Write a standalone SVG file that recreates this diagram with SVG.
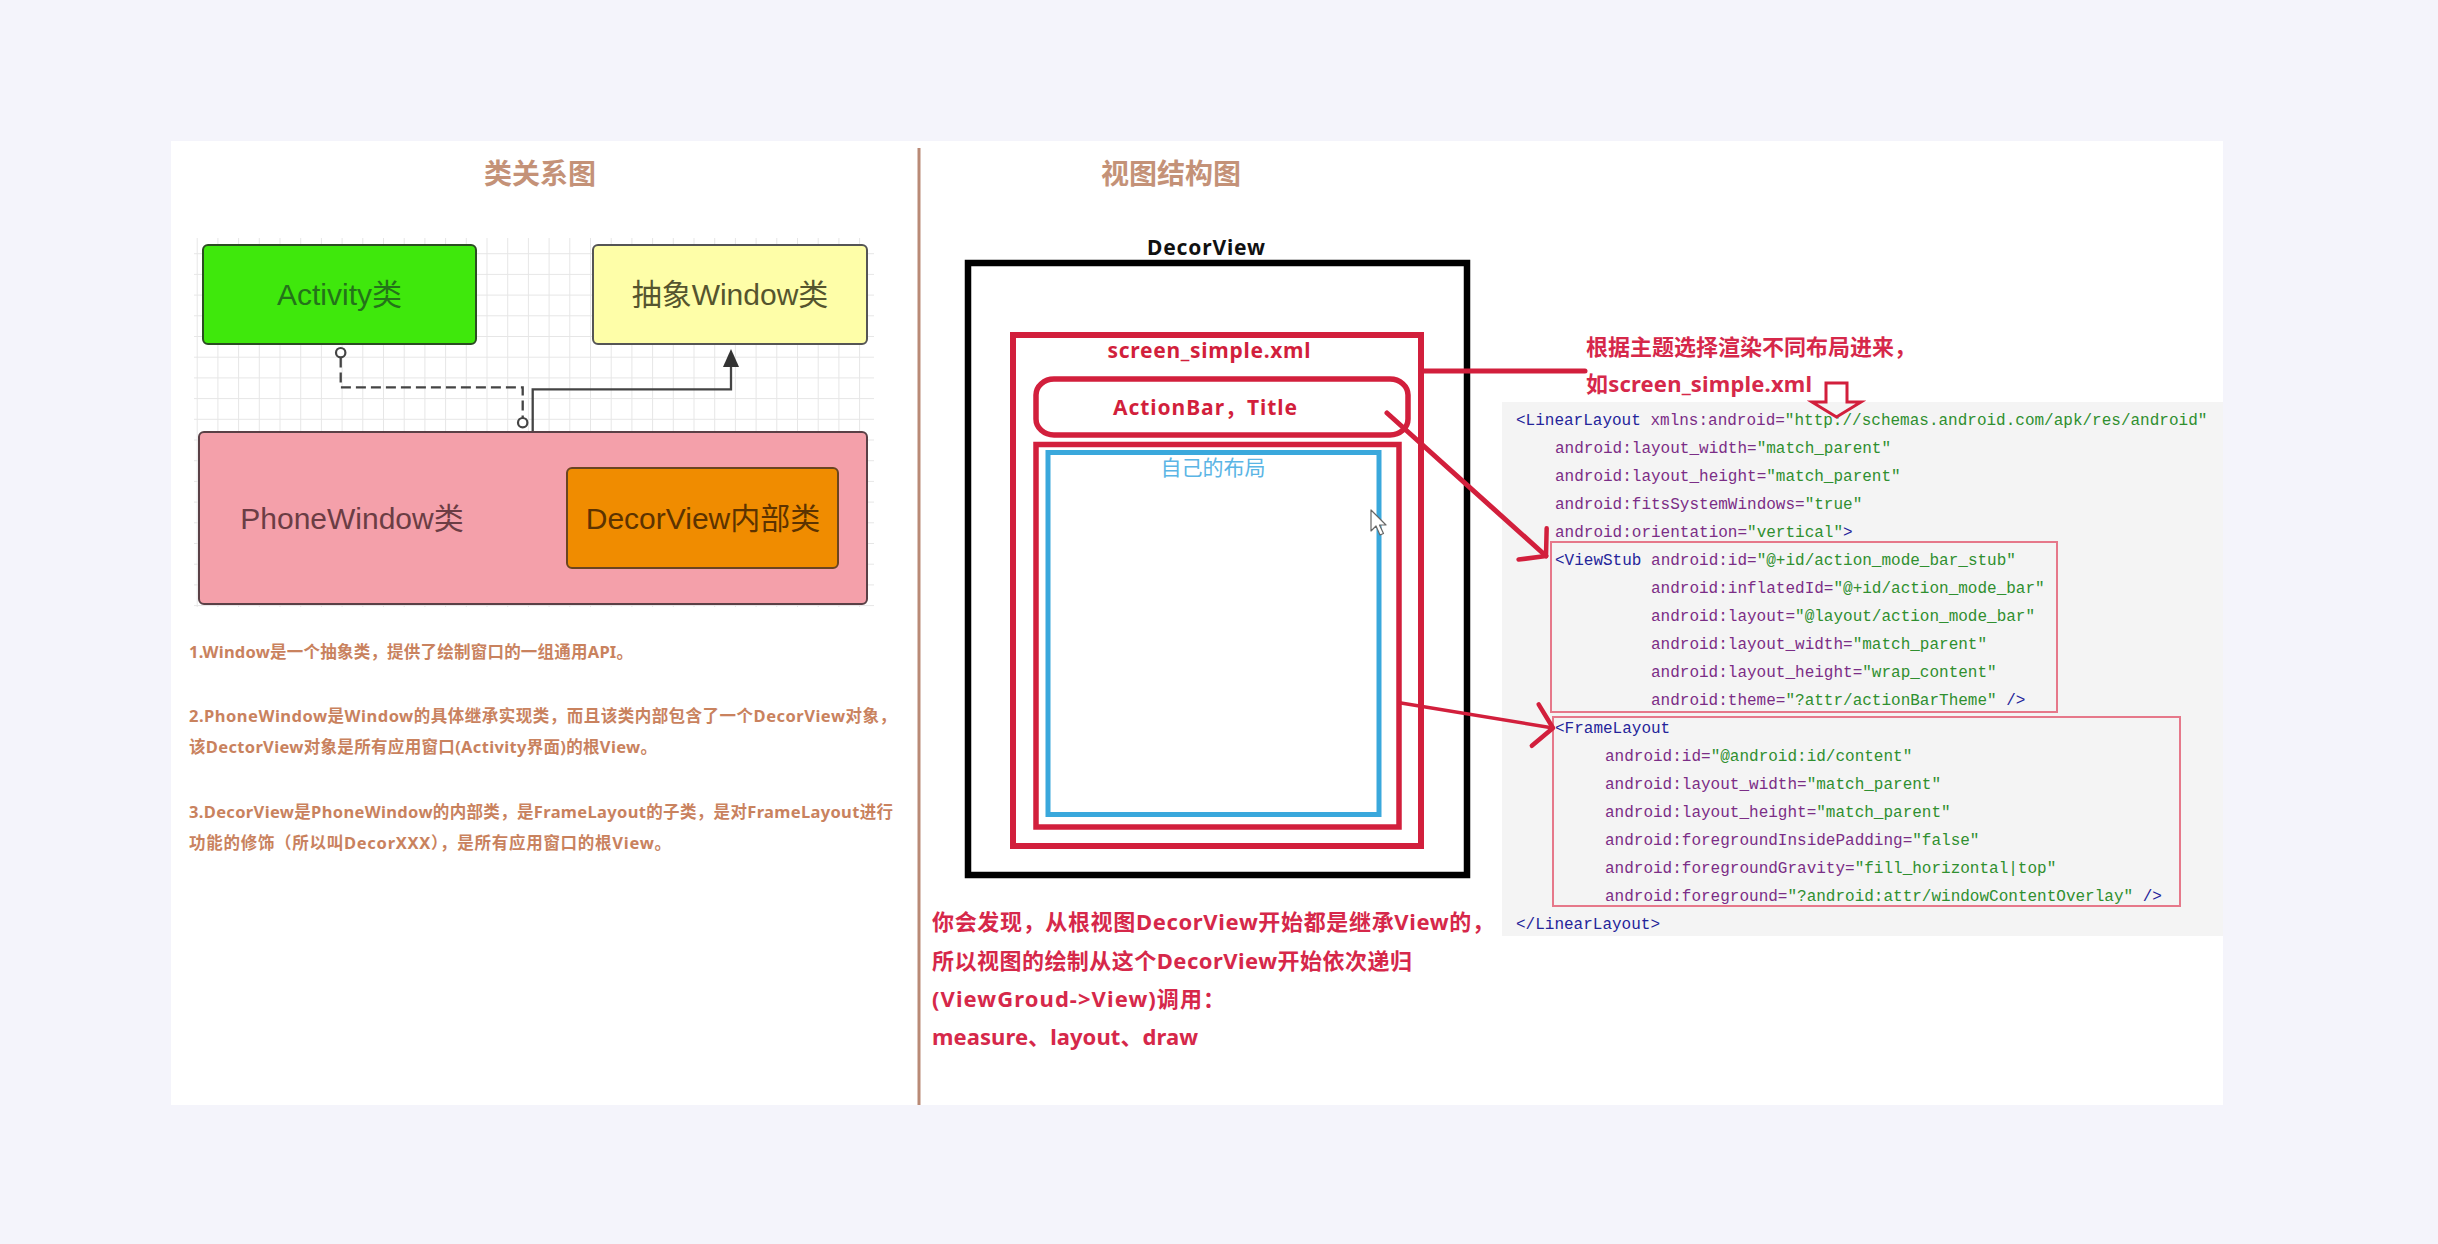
<svg xmlns="http://www.w3.org/2000/svg" width="2438" height="1244" viewBox="0 0 2438 1244">
<style>
.title{font-family:"Noto Sans","Noto Sans CJK SC",sans-serif;font-weight:bold;font-size:28px;fill:#c49278}
.cls{font-family:"Liberation Sans","Noto Sans CJK SC",sans-serif;font-size:30px;text-anchor:middle}
.note{font-family:"Noto Sans","Noto Sans CJK SC",sans-serif;font-weight:bold;font-size:16.5px;fill:#c9825e}
.red{font-family:"Noto Sans","Noto Sans CJK SC",sans-serif;font-weight:bold;font-size:22px;fill:#d6284a}
.lbl{font-family:"Noto Sans","Noto Sans CJK SC",sans-serif;font-weight:bold;font-size:21px;text-anchor:middle}
.code{font-family:"Liberation Mono","Noto Sans CJK SC",monospace;font-size:16px;fill:#7b2d86}
.tag{fill:#24249a}
.val{fill:#2f8f2f}
.conn{fill:none;stroke:#444;stroke-width:2.3}
.redline{fill:none;stroke:#d21f3c;stroke-linecap:round}
.pink{fill:none;stroke:#e6788a;stroke-width:2}
</style>
<defs>
<pattern id="grid" x="196.7" y="356.7" width="20.7" height="20.7" patternUnits="userSpaceOnUse">
<path d="M0 0.5H20.7M0.5 0V20.7" stroke="#e6e6e6" stroke-width="1" fill="none"/>
</pattern>
<marker id="vhead" markerUnits="userSpaceOnUse" markerWidth="40" markerHeight="50" refX="0" refY="0" viewBox="-30 -25 40 50" orient="auto" overflow="visible">
<path d="M-18,-21 L0,0 L-18,21" fill="none" stroke="#d21f3c" stroke-width="4.5" stroke-linecap="round" stroke-linejoin="round"/>
</marker>
</defs>
<rect x="0" y="0" width="2438" height="1244" fill="#f4f4fb"/>
<rect x="171" y="141" width="2052" height="964" fill="#ffffff"/>
<line x1="919" y1="148" x2="919" y2="1105" stroke="#b98a76" stroke-width="3"/>

<text class="title" x="540" y="184" text-anchor="middle">类关系图</text>
<text class="title" x="1171" y="184" text-anchor="middle">视图结构图</text>

<rect x="194" y="238" width="680" height="369" fill="url(#grid)"/>

<g id="activity">
<rect x="203" y="245" width="273" height="99" rx="5" fill="#3fe80c" stroke="#2b4d22" stroke-width="2"/>
<text class="cls" x="339.5" y="305" fill="#24731a">Activity类</text>
</g>
<g id="window">
<rect x="593" y="245" width="274" height="99" rx="5" fill="#fefea8" stroke="#555" stroke-width="2"/>
<text class="cls" x="730" y="305" fill="#55552e">抽象Window类</text>
</g>
<g id="phonewindow">
<rect x="199" y="432" width="668" height="172" rx="5" fill="#f4a0aa" stroke="#5a4046" stroke-width="2"/>
<text class="cls" x="352" y="529" fill="#6b3d44">PhoneWindow类</text>
</g>
<g id="decorview-class">
<rect x="567" y="468" width="271" height="100" rx="5" fill="#f08c00" stroke="#6a4520" stroke-width="2"/>
<text class="cls" x="703" y="529" fill="#5c3300">DecorView内部类</text>
</g>

<g id="notes">
<text class="note" x="189" y="658" textLength="444">1.Window是一个抽象类，提供了绘制窗口的一组通用API。</text>
<text class="note" x="189" y="722" textLength="707">2.PhoneWindow是Window的具体继承实现类，而且该类内部包含了一个DecorView对象，</text>
<text class="note" x="189" y="753" textLength="468">该DectorView对象是所有应用窗口(Activity界面)的根View。</text>
<text class="note" x="189" y="818" textLength="704">3.DecorView是PhoneWindow的内部类，是FrameLayout的子类，是对FrameLayout进行</text>
<text class="note" x="189" y="849" textLength="482">功能的修饰（所以叫DecorXXX），是所有应用窗口的根View。</text>
</g>

<g id="decorview">
<text class="lbl" x="1206" y="255" fill="#111" textLength="118">DecorView</text>
<rect x="968" y="263" width="499" height="612" fill="none" stroke="#000" stroke-width="6.5"/>
</g>
<g id="screen-simple">
<rect x="1013" y="335" width="408" height="511" fill="none" stroke="#d21f3c" stroke-width="6"/>
<text class="lbl" x="1209" y="358" fill="#d21f3c" textLength="203">screen_simple.xml</text>
</g>
<g id="actionbar">
<rect x="1036" y="379" width="372" height="56" rx="18" ry="16" fill="none" stroke="#d21f3c" stroke-width="5.5"/>
<text class="lbl" x="1205" y="415" fill="#d21f3c" textLength="184">ActionBar，Title</text>
</g>
<g id="content">
<rect x="1036" y="444.5" width="363" height="382.5" fill="none" stroke="#d21f3c" stroke-width="5.5"/>
</g>
<g id="own-layout">
<rect x="1048" y="452.5" width="331" height="362" fill="none" stroke="#3aa8dc" stroke-width="5"/>
<text x="1213" y="475" text-anchor="middle" font-family="'Noto Sans CJK SC',sans-serif" font-size="21" fill="#5bb5e5">自己的布局</text>
</g>
<g id="cursor">
<path d="M1371,510 L1371,531 L1376,526 L1380,535 L1383.5,533.5 L1379.5,525 L1386,525 Z" fill="#ffffff" stroke="#666" stroke-width="1.2" stroke-linejoin="round"/>
</g>

<g id="theme-note">
<text class="red" x="1586" y="355">根据主题选择渲染不同布局进来，</text>
<text class="red" x="1586" y="392" textLength="226">如screen_simple.xml</text>
</g>

<g id="xml-code">
<rect x="1502" y="402" width="721" height="534" fill="#f4f4f4"/>
<text class="code" x="1516" y="425"><tspan class="tag">&lt;LinearLayout</tspan> xmlns:android=<tspan class="val">"http://schemas.android.com/apk/res/android"</tspan></text>
<text class="code" x="1555" y="453">android:layout_width=<tspan class="val">"match_parent"</tspan></text>
<text class="code" x="1555" y="481">android:layout_height=<tspan class="val">"match_parent"</tspan></text>
<text class="code" x="1555" y="509">android:fitsSystemWindows=<tspan class="val">"true"</tspan></text>
<text class="code" x="1555" y="537">android:orientation=<tspan class="val">"vertical"</tspan><tspan class="tag">&gt;</tspan></text>
<text class="code" x="1555" y="565"><tspan class="tag">&lt;ViewStub</tspan> android:id=<tspan class="val">"@+id/action_mode_bar_stub"</tspan></text>
<text class="code" x="1651" y="593">android:inflatedId=<tspan class="val">"@+id/action_mode_bar"</tspan></text>
<text class="code" x="1651" y="621">android:layout=<tspan class="val">"@layout/action_mode_bar"</tspan></text>
<text class="code" x="1651" y="649">android:layout_width=<tspan class="val">"match_parent"</tspan></text>
<text class="code" x="1651" y="677">android:layout_height=<tspan class="val">"wrap_content"</tspan></text>
<text class="code" x="1651" y="705">android:theme=<tspan class="val">"?attr/actionBarTheme"</tspan><tspan class="tag"> /&gt;</tspan></text>
<text class="code" x="1555" y="733"><tspan class="tag">&lt;FrameLayout</tspan></text>
<text class="code" x="1605" y="761">android:id=<tspan class="val">"@android:id/content"</tspan></text>
<text class="code" x="1605" y="789">android:layout_width=<tspan class="val">"match_parent"</tspan></text>
<text class="code" x="1605" y="817">android:layout_height=<tspan class="val">"match_parent"</tspan></text>
<text class="code" x="1605" y="845">android:foregroundInsidePadding=<tspan class="val">"false"</tspan></text>
<text class="code" x="1605" y="873">android:foregroundGravity=<tspan class="val">"fill_horizontal|top"</tspan></text>
<text class="code" x="1605" y="901">android:foreground=<tspan class="val">"?android:attr/windowContentOverlay"</tspan><tspan class="tag"> /&gt;</tspan></text>
<text class="code" x="1516" y="929"><tspan class="tag">&lt;/LinearLayout&gt;</tspan></text>
</g>
<g id="viewstub-box"><rect class="pink" x="1551" y="542" width="506" height="170"/></g>
<g id="framelayout-box"><rect class="pink" x="1553" y="717" width="627" height="189"/></g>

<g id="summary">
<text class="red" x="932" y="930" textLength="562">你会发现，从根视图DecorView开始都是继承View的，</text>
<text class="red" x="932" y="969" textLength="480">所以视图的绘制从这个DecorView开始依次递归</text>
<text class="red" x="932" y="1007" textLength="293">(ViewGroud-&gt;View)调用：</text>
<text class="red" x="932" y="1045" textLength="266">measure、layout、draw</text>
</g>

<g id="connectors">
<path class="conn" d="M340.7,357.5 V387.3 H522.7 V418" stroke-dasharray="10 5"/>
<circle cx="340.7" cy="352.7" r="4.7" fill="#fff" stroke="#444" stroke-width="2.2"/>
<circle cx="522.7" cy="422.7" r="4.7" fill="#fff" stroke="#444" stroke-width="2.2"/>
<path class="conn" d="M532.7,431 V389.3 H731 V366"/>
<polygon points="731,349 723,367 739,367" fill="#333"/>
<path class="redline" d="M1424,371 H1585" stroke-width="5"/>
<polygon points="1826,383 1847,383 1847,402 1861,402 1836.5,417 1812,402 1826,402" fill="none" stroke="#d21f3c" stroke-width="3" stroke-linejoin="miter"/>
<path class="redline" d="M1387,413 L1546,556" stroke-width="5" marker-end="url(#vhead)"/>
<path class="redline" d="M1401,703 L1553,728" stroke-width="3.5" marker-end="url(#vhead)"/>
</g>
</svg>
